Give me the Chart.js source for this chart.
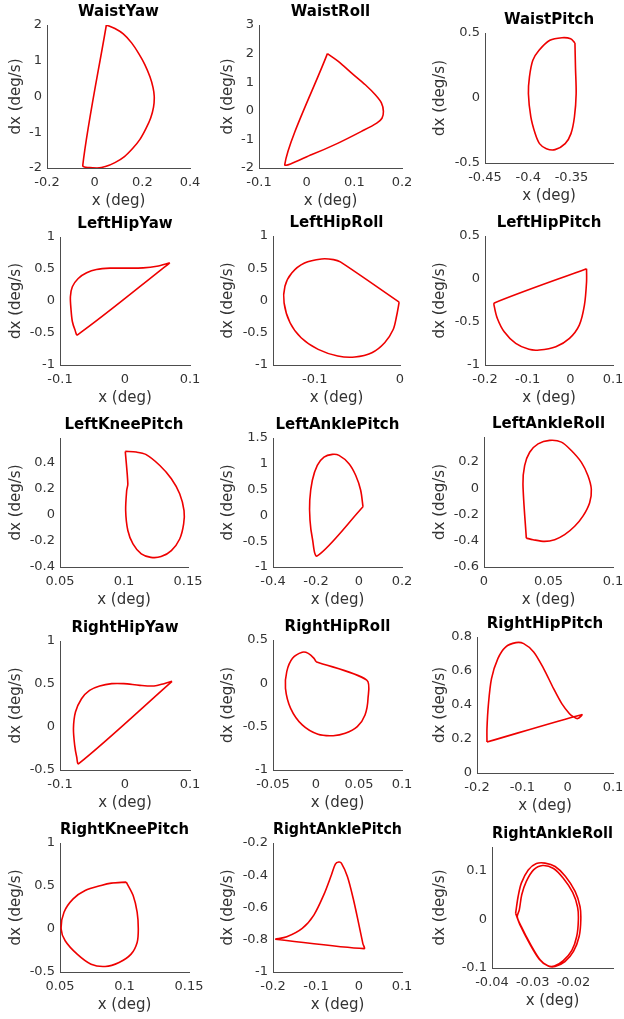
<!DOCTYPE html>
<html>
<head>
<meta charset="utf-8">
<script src="https://cdn.jsdelivr.net/npm/chart.js@4.4.1/dist/chart.umd.min.js"></script>
<style>
  html, body { margin: 0; padding: 0; background: #fff; overflow: hidden; }
  body { width: 624px; height: 1019px; position: relative; }
  canvas { position: absolute; }
</style>
</head>
<body>
<script>
// ===== PHASE PORTRAITS (x vs dx) =====

const titles = ['WaistYaw', 'WaistRoll', 'WaistPitch',
    'LeftHipYaw', 'LeftHipRoll', 'LeftHipPitch',
    'LeftKneePitch', 'LeftAnklePitch', 'LeftAnkleRoll',
    'RightHipYaw', 'RightHipRoll', 'RightHipPitch',
    'RightKneePitch', 'RightAnklePitch', 'RightAnkleRoll'];

// --- series (x in deg, dx in deg/s) ---
const waistYawX  = [0.049, 0.085, 0.12, 0.155, 0.185, 0.21, 0.232, 0.245, 0.25, 0.247, 0.235, 0.215, 0.19, 0.16, 0.125, 0.085, 0.045, 0.01, -0.02, -0.05, 0.049];
const waistYawDx = [2.0, 1.9, 1.75, 1.5, 1.2, 0.9, 0.55, 0.25, 0.0, -0.3, -0.6, -0.9, -1.2, -1.45, -1.68, -1.85, -1.96, -2.0, -1.99, -1.93, 2.0];

const waistRollX  = [0.0435, 0.067, 0.095, 0.123, 0.144, 0.157, 0.161, 0.158, 0.147, 0.115, 0.066, 0.011, -0.046, 0.0435];
const waistRollDx = [2.0, 1.72, 1.31, 0.91, 0.56, 0.27, -0.02, -0.26, -0.43, -0.72, -1.13, -1.53, -1.88, 2.0];

const waistPitchX  = [-0.346, -0.3454, -0.3446, -0.3466, -0.3506, -0.3573, -0.369, -0.379, -0.387, -0.392, -0.397, -0.3998, -0.3986, -0.3947, -0.3875, -0.375, -0.361, -0.351, -0.346];
const waistPitchDx = [0.423, 0.238, 0.033, -0.146, -0.274, -0.351, -0.397, -0.39, -0.351, -0.274, -0.146, 0.033, 0.162, 0.29, 0.367, 0.444, 0.464, 0.456, 0.423];

const leftHipYawX  = [0.069, 0.049, 0.028, 0.003, -0.023, -0.044, -0.059, -0.072, -0.081, -0.084, -0.083, -0.081, -0.077, -0.073, 0.069];
const leftHipYawDx = [0.596, 0.544, 0.518, 0.513, 0.513, 0.492, 0.44, 0.352, 0.223, 0.067, -0.14, -0.32, -0.45, -0.528, 0.596];

const leftHipRollX  = [-0.001, -0.004, -0.008, -0.018, -0.033, -0.053, -0.073, -0.096, -0.116, -0.129, -0.136, -0.135, -0.127, -0.112, -0.092, -0.078, -0.07, -0.001];
const leftHipRollDx = [-0.026, -0.24, -0.45, -0.655, -0.81, -0.876, -0.86, -0.758, -0.577, -0.345, -0.036, 0.222, 0.428, 0.582, 0.644, 0.634, 0.598, -0.026];

const leftHipPitchX  = [0.038, 0.038, 0.033, 0.021, -0.002, -0.034, -0.073, -0.097, -0.128, -0.155, -0.171, -0.178, -0.178, 0.038];
const leftHipPitchDx = [0.12, -0.035, -0.305, -0.537, -0.691, -0.788, -0.826, -0.818, -0.749, -0.614, -0.459, -0.324, -0.278, 0.12];

const leftKneePitchX  = [0.101, 0.1096, 0.117, 0.128, 0.137, 0.1435, 0.1469, 0.1466, 0.1435, 0.137, 0.129, 0.121, 0.1135, 0.107, 0.103, 0.1013, 0.1021, 0.103, 0.101];
const leftKneePitchDx = [0.487, 0.482, 0.464, 0.379, 0.277, 0.162, 0.033, -0.069, -0.185, -0.274, -0.32, -0.326, -0.30, -0.223, -0.12, 0.033, 0.187, 0.238, 0.487];

const leftAnklePitchX  = [0.0186, 0.0078, -0.0155, -0.0465, -0.093, -0.124, -0.163, -0.194, -0.217, -0.229, -0.228, -0.217, -0.194, 0.0186];
const leftAnklePitchDx = [0.167, 0.488, 0.778, 1.003, 1.163, 1.183, 1.131, 0.97, 0.681, 0.296, -0.09, -0.443, -0.784, 0.167];

const leftAnkleRollX  = [0.0328, 0.0302, 0.0315, 0.0354, 0.0419, 0.0509, 0.06, 0.0677, 0.0755, 0.0806, 0.0832, 0.0819, 0.0767, 0.0703, 0.0625, 0.0548, 0.047, 0.038, 0.0328];
const leftAnkleRollDx = [-0.38, 0.031, 0.172, 0.274, 0.338, 0.364, 0.351, 0.287, 0.197, 0.095, -0.008, -0.11, -0.213, -0.29, -0.354, -0.392, -0.405, -0.392, -0.38];

const rightHipYawX  = [0.0724, 0.06, 0.0446, 0.0229, -0.0019, -0.0204, -0.039, -0.0545, -0.0669, -0.0762, -0.0793, -0.0774, -0.0743, -0.0712, 0.0724];
const rightHipYawDx = [0.531, 0.504, 0.477, 0.484, 0.504, 0.504, 0.477, 0.426, 0.329, 0.174, -0.019, -0.213, -0.349, -0.426, 0.531];

const rightHipRollX  = [0.0, 0.059, 0.0605, 0.057, 0.048, 0.034, 0.02, 0.0023, -0.016, -0.0295, -0.0355, -0.034, -0.0273, -0.016, -0.009, -0.0023, 0.0];
const rightHipRollDx = [0.25, 0.038, -0.173, -0.365, -0.5, -0.577, -0.604, -0.588, -0.48, -0.288, -0.058, 0.135, 0.288, 0.358, 0.346, 0.288, 0.25];

const rightHipPitchX  = [-0.178, 0.031, 0.022, 0.013, 0.004, -0.013, -0.031, -0.053, -0.075, -0.097, -0.114, -0.137, -0.154, -0.168, -0.175, -0.178, -0.178];
const rightHipPitchDx = [0.182, 0.343, 0.32, 0.33, 0.349, 0.408, 0.496, 0.614, 0.712, 0.761, 0.767, 0.741, 0.673, 0.555, 0.398, 0.261, 0.182];

const rightKneePitchX  = [0.1014, 0.1067, 0.1098, 0.1107, 0.1098, 0.1051, 0.0958, 0.085, 0.0741, 0.0633, 0.054, 0.0509, 0.0531, 0.0602, 0.0695, 0.0819, 0.0898, 0.1014];
const rightKneePitchDx = [0.545, 0.389, 0.195, 0, -0.156, -0.292, -0.389, -0.436, -0.409, -0.292, -0.136, 0, 0.195, 0.35, 0.447, 0.506, 0.533, 0.545];

const rightAnklePitchX  = [-0.195, -0.168, -0.132, -0.105, -0.082, -0.064, -0.055, -0.047, -0.041, -0.027, -0.0136, 0, 0.009, 0.0118, -0.195];
const rightAnklePitchDx = [-0.797, -0.782, -0.73, -0.647, -0.522, -0.397, -0.331, -0.318, -0.325, -0.408, -0.543, -0.709, -0.824, -0.855, -0.797];

const rightAnkleRollX  = [-0.0342, -0.0336, -0.0328, -0.0311, -0.0291, -0.027, -0.0245, -0.022, -0.0196, -0.0184, -0.0182, -0.0186, -0.02, -0.0221, -0.0245, -0.0262, -0.0282, -0.0307, -0.0328, -0.0338,
                          -0.0333, -0.0327, -0.0316, -0.0298, -0.0276, -0.0249, -0.0225, -0.0202, -0.019, -0.0188, -0.0192, -0.0204, -0.0225, -0.0247, -0.0264, -0.0284, -0.0309, -0.033, -0.0342];
const rightAnkleRollDx = [0.012, 0.046, 0.074, 0.101, 0.114, 0.115, 0.108, 0.088, 0.057, 0.026, -0.001, -0.035, -0.066, -0.087, -0.097, -0.096, -0.083, -0.049, -0.015, 0.005,
                          0.019, 0.05, 0.077, 0.101, 0.11, 0.104, 0.084, 0.055, 0.025, -0.001, -0.035, -0.064, -0.085, -0.096, -0.095, -0.082, -0.048, -0.014, 0.012];

// --- axis limits [min, max] and tick values, per panel ---
const xLimits = [[-0.2, 0.4], [-0.1, 0.2], [-0.45, -0.302],
    [-0.1, 0.1], [-0.149, 0], [-0.2, 0.1],
    [0.05, 0.15], [-0.4, 0.2], [0, 0.1],
    [-0.1, 0.1], [-0.05, 0.1], [-0.2, 0.1],
    [0.05, 0.15], [-0.2, 0.1], [-0.04, -0.0103]];
const yLimits = [[-2, 2], [-2, 3], [-0.5, 0.5],
    [-1, 1], [-1, 1], [-1, 0.5],
    [-0.4, 0.59], [-1, 1.5], [-0.6, 0.39],
    [-0.5, 1], [-1, 0.5], [0, 0.8],
    [-0.5, 1], [-1, -0.2], [-0.1, 0.148]];
const xTicks = [[-0.2, 0, 0.2, 0.4], [-0.1, 0, 0.1, 0.2], [-0.45, -0.4, -0.35],
    [-0.1, 0, 0.1], [-0.1, 0], [-0.2, -0.1, 0, 0.1],
    [0.05, 0.1, 0.15], [-0.4, -0.2, 0, 0.2], [0, 0.05, 0.1],
    [-0.1, 0, 0.1], [-0.05, 0, 0.05, 0.1], [-0.2, -0.1, 0, 0.1],
    [0.05, 0.1, 0.15], [-0.2, -0.1, 0, 0.1], [-0.04, -0.03, -0.02]];
const yTicks = [[-2, -1, 0, 1, 2], [-2, -1, 0, 1, 2, 3], [-0.5, 0, 0.5],
    [-1, -0.5, 0, 0.5, 1], [-1, -0.5, 0, 0.5, 1], [-1, -0.5, 0, 0.5],
    [-0.4, -0.2, 0, 0.2, 0.4], [-1, -0.5, 0, 0.5, 1, 1.5], [-0.6, -0.4, -0.2, 0, 0.2],
    [-0.5, 0, 0.5, 1], [-1, -0.5, 0, 0.5], [0, 0.2, 0.4, 0.6, 0.8],
    [-0.5, 0, 0.5, 1], [-1, -0.8, -0.6, -0.4, -0.2], [-0.1, 0, 0.1]];

const seriesX = [waistYawX, waistRollX, waistPitchX, leftHipYawX, leftHipRollX, leftHipPitchX,
    leftKneePitchX, leftAnklePitchX, leftAnkleRollX, rightHipYawX, rightHipRollX, rightHipPitchX,
    rightKneePitchX, rightAnklePitchX, rightAnkleRollX];
const seriesDx = [waistYawDx, waistRollDx, waistPitchDx, leftHipYawDx, leftHipRollDx, leftHipPitchDx,
    leftKneePitchDx, leftAnklePitchDx, leftAnkleRollDx, rightHipYawDx, rightHipRollDx, rightHipPitchDx,
    rightKneePitchDx, rightAnklePitchDx, rightAnkleRollDx];

// --- layout: plot box [left, top, width, height] in page px ---
const boxes = [
    [47, 25, 143, 143], [259, 25, 143, 143], [485, 33, 128, 130],
    [60, 237, 130, 128], [273, 236, 127, 129], [485, 236, 128, 129],
    [60, 438, 128, 129], [273, 438, 129, 129], [484, 437, 129, 130],
    [60, 641, 130, 129], [273, 640, 129, 130], [477, 637, 136, 136],
    [60, 843, 129, 129], [273, 843, 129, 129], [492, 847, 121, 121]
];
const ylabelCol = [16, 228, 440];

const LINE_COLOR = '#ee0000';
const AXIS_COLOR = '#4d4d4d';
const TEXT_COLOR = '#333333';

Chart.defaults.font.family = "'DejaVu Sans', sans-serif";

const fmt = (v) => String(parseFloat(Number(v).toFixed(6)));

function makePanel(i) {
    const [L, T, W, H] = boxes[i];
    const left = ylabelCol[i % 3] - 9;
    const top = T - 25;
    const width = L + W + 22 - left;
    const height = 25 + H + 45;

    const canvas = document.createElement('canvas');
    canvas.width = width;
    canvas.height = height;
    canvas.style.left = left + 'px';
    canvas.style.top = top + 'px';
    canvas.style.width = width + 'px';
    canvas.style.height = height + 'px';
    document.body.appendChild(canvas);

    const points = seriesX[i].map((x, k) => ({ x, y: seriesDx[i][k] }));

    new Chart(canvas.getContext('2d'), {
        type: 'scatter',
        data: {
            datasets: [{
                data: points,
                showLine: true,
                borderColor: LINE_COLOR,
                borderWidth: 1.6,
                pointRadius: 0,
                tension: 0.3,
                fill: false
            }]
        },
        options: {
            responsive: false,
            animation: false,
            devicePixelRatio: 1,
            layout: { padding: { left: 0, right: 22, top: 0, bottom: 0 } },
            plugins: {
                legend: { display: false },
                tooltip: { enabled: false },
                title: {
                    display: true,
                    text: titles[i],
                    fullSize: false,
                    color: '#000',
                    font: { size: 15, weight: 'bold', lineHeight: 1.2 },
                    padding: { top: 3, bottom: 4 }
                }
            },
            scales: {
                x: {
                    type: 'linear',
                    min: xLimits[i][0],
                    max: xLimits[i][1],
                    grid: { display: false, drawTicks: false },
                    border: { display: true, color: AXIS_COLOR, width: 1 },
                    ticks: { color: TEXT_COLOR, font: { size: 13 }, padding: 7, maxRotation: 0, autoSkip: false, callback: fmt },
                    title: { display: true, text: 'x (deg)', color: TEXT_COLOR, font: { size: 15, lineHeight: 1.2 }, padding: { top: 0, bottom: 3 } },
                    afterBuildTicks: (s) => { s.ticks = xTicks[i].map(v => ({ value: v })); },
                    afterFit: (s) => { s.height = 45; }
                },
                y: {
                    type: 'linear',
                    min: yLimits[i][0],
                    max: yLimits[i][1],
                    grid: { display: false, drawTicks: false },
                    border: { display: true, color: AXIS_COLOR, width: 1 },
                    ticks: { color: TEXT_COLOR, font: { size: 13 }, padding: 5, autoSkip: false, callback: fmt },
                    title: { display: true, text: 'dx (deg/s)', color: TEXT_COLOR, font: { size: 15, lineHeight: 1.2 }, padding: { top: 0, bottom: 0 } },
                    afterBuildTicks: (s) => { s.ticks = yTicks[i].map(v => ({ value: v })); },
                    afterFit: (s) => { s.width = L - left; }
                }
            }
        }
    });
}

titles.forEach((t, i) => makePanel(i));
</script>
</body>
</html>
